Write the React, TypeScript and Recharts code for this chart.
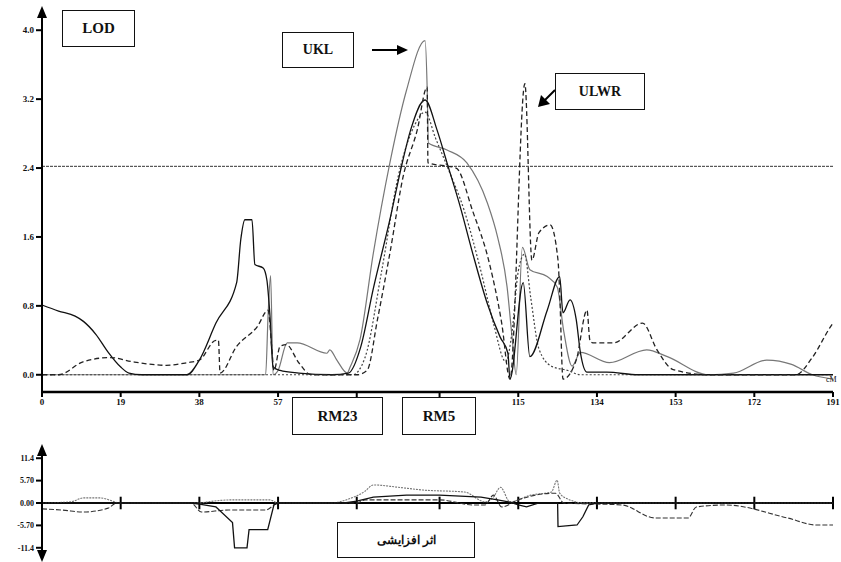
import {
  ComposedChart, Line, XAxis, YAxis, ReferenceLine
} from 'recharts';

// marker positions along the chromosome (cM)
const cmTicks = [0, 19, 38, 57, 76, 96, 115, 134, 153, 172, 191];
const lodTicks = [0, 0.8, 1.6, 2.4, 3.2, 4.0];
const effectTicks = [-11.4, -5.7, 0, 5.7, 11.4];
const threshold = 2.42;

// LOD profiles [cM, LOD]
const traitA = [
  [0, .81], [4, .74], [8, .68], [10, .62], [13, .47], [16, .26], [19, .09], [21, .02], [24, 0], [35, 0],
  [38, .17], [42, .6], [47, 1.07], [48, 1.57], [49, 1.8], [50.7, 1.8], [51.4, 1.28], [53.4, 1.24], [54.3, 1.1],
  [55, .72], [55.8, .09], [57.5, .05], [62, .02], [70, 0], [74, .02], [77, .33], [80, 1.0], [84, 1.8], [87, 2.46],
  [89, 2.84], [92.5, 3.19], [95.4, 2.84], [97.8, 2.46], [101, 1.95], [104, 1.41], [107.5, .83], [110.6, .44],
  [112.5, .25], [113, -.05], [116.2, 1.07], [117.8, .21], [122, .75], [125, 1.14], [125.8, .72], [127.5, .87],
  [129, .64], [130, .26], [131.6, .03], [136.4, .03], [144, 0], [191, 0],
];
const traitULWR = [
  [0, 0], [4, 0], [9.9, .15], [16.4, .2], [22, .15], [30, .11], [35, .14], [38, .17], [42, .4], [42.6, .4],
  [43, .02], [47, .33], [52, .56], [54.6, .75], [55.5, .3], [56, .05], [57.5, .33], [59, .35], [62, .14], [65, 0],
  [76, 0], [78.5, .05], [81, .64], [84, 1.41], [87.2, 2.3], [90.6, 2.84], [93, 3.34], [93.2, 2.46], [100, 2.4],
  [104, 1.9], [108, 1.3], [111, .6], [113, -.05], [116.6, 3.38], [118.3, 1.33], [120, 1.65], [122.7, 1.74],
  [124.6, 1.33], [125, .95], [125.8, -.05], [129, .17], [131.6, .75], [132.3, .4], [133, .37], [138, .37],
  [145, .6], [148.5, .29], [152.4, .06], [161, 0], [182, 0], [186, .2], [190.3, .55], [191, .6],
];
const traitUKL = [
  [0, 0], [54, 0], [54.6, .7], [55.2, 1.15], [55.8, 0], [57, .05], [59.2, .37], [61.6, .37], [68.8, .25],
  [69.5, .29], [71.2, .17], [73.7, .02], [74.4, .09], [76.8, .41], [80, 1.41], [84, 2.46], [88, 3.3], [92.5, 3.88],
  [93, 3.34], [93.3, 2.69], [97.8, 2.61], [102.6, 2.46], [107.5, 2.0], [110, 1.6], [112.3, 1.02], [113.5, .44],
  [114.5, 0], [116, 1.48], [117.8, 1.22], [122, 1.14], [124.4, 1.02], [126, .5], [128, .1], [130, .26],
  [137, .14], [146, .29], [151, .21], [161, 0], [167, .02], [175, .17], [181, .12], [186, 0], [191, -.05],
];
const traitD = [
  [0, 0], [75, 0], [78, .2], [82, 1.2], [86, 2.3], [90, 2.9], [92.5, 3.05], [95, 2.75], [98, 2.4], [102, 1.9],
  [106, 1.2], [109, .6], [112, .15], [113.5, .5], [115, 1.2], [116.5, 1.4], [118, .9], [120, .3], [123, .1],
  [127, .05], [130, 0], [191, 0],
];

// additive effects [cM, effect]
const effA = [
  [0, 0], [36, 0], [38, -.3], [42, -1], [46, -5], [46.5, -11.4], [49.5, -11.4], [50, -6.8], [54.5, -6.8],
  [56, -.5], [57, 0], [73, 0], [76, .5], [80, 1.5], [88, 2], [96, 2], [106, 1.5], [110, .8], [113, .2],
  [115, -.5], [117, -1], [120, 0], [124.5, 0], [124.6, -6], [129.2, -5.6], [130.6, -3.5], [132, -.5], [134, 0], [191, 0],
];
const effB = [
  [0, 0], [7, .3], [10, 1.3], [14, 1.3], [17, .5], [18.5, 0], [38, 0], [40, .3], [46, .8], [55, .8], [57, 0],
  [70, 0], [74, 1], [78, 3], [80, 4.6], [86, 4], [92, 3.3], [102, 2.8], [107, .3], [109, 1.5], [110.7, 4],
  [113, .3], [118, 2], [123, 2.8], [124.4, 5.8], [125, 2.5], [127, 1], [131, 0], [191, 0],
];
const effC = [
  [0, -1.5], [5, -1.8], [10, -2.3], [16, -1.3], [18, 0], [36, 0], [38.5, -2.3], [45, -1.8], [54, -1.8], [57, 0],
  [76, 0], [78, .8], [96, .8], [104, -.5], [107, -.5], [109, 2], [111, -1], [115, .8], [124, 2.5], [126, 0],
  [140, -.5], [148, -3.8], [156, -3.8], [158, -1], [165, -.5], [180, -3.8], [187, -5.6], [191, -5.6],
];

const toRows = (pts: number[][]) => pts.map(([x, y]) => ({ x, y }));

const serif = 'Liberation Serif, serif';
const tickStyle = { fontSize: 9, fontFamily: serif, fontWeight: 700, fill: '#111' };

const fmtEffect = (v: number) => {
  if (v === 0) return '0.00';
  if (Math.abs(v) === 5.7) return (v < 0 ? '-' : '') + '5.70';
  return v < 0 ? '-11.4' : '11.4';
};

function Box({ left, top, w, h, text, size = 14 }: any) {
  return (
    <div style={{
      position: 'absolute', left, top, width: w, height: h, border: '1.5px solid #111', background: '#fff',
      display: 'flex', alignItems: 'center', justifyContent: 'center', boxSizing: 'border-box',
      fontFamily: serif, fontWeight: 700, fontSize: size, color: '#111',
    }}>{text}</div>
  );
}

export default function App() {
  return (
    <div style={{ position: 'absolute', left: 0, top: 0, width: 841, height: 562, background: '#fff', overflow: 'hidden' }}>
      <div style={{ position: 'absolute', left: 0, top: 0 }}>
        <ComposedChart width={841} height={430} margin={{ top: 13, right: 8, left: 0, bottom: 8 }}>
          <XAxis type="number" dataKey="x" domain={[0, 191]} ticks={cmTicks} height={30}
            axisLine={{ stroke: '#000', strokeWidth: 2.5 }} tickLine={{ stroke: '#000', strokeWidth: 2 }}
            tick={tickStyle} tickSize={5} interval={0} />
          <YAxis type="number" domain={[-0.2, 4.2]} ticks={lodTicks} width={42}
            tickFormatter={(v: number) => v.toFixed(1)}
            axisLine={{ stroke: '#000', strokeWidth: 2 }} tickLine={{ stroke: '#000', strokeWidth: 2 }}
            tick={tickStyle} tickSize={6} allowDataOverflow />
          <ReferenceLine y={threshold} stroke="#333" strokeDasharray="3 1" strokeWidth={1} />
          <Line data={toRows(traitUKL)} dataKey="y" type="monotone" stroke="#777" strokeWidth={1.2} dot={false} isAnimationActive={false} />
          <Line data={toRows(traitD)} dataKey="y" type="monotone" stroke="#444" strokeWidth={1.2} strokeDasharray="2 2" dot={false} isAnimationActive={false} />
          <Line data={toRows(traitA)} dataKey="y" type="monotone" stroke="#111" strokeWidth={1.3} dot={false} isAnimationActive={false} />
          <Line data={toRows(traitULWR)} dataKey="y" type="monotone" stroke="#222" strokeWidth={1.3} strokeDasharray="5 3" dot={false} isAnimationActive={false} />
        </ComposedChart>
      </div>

      <div style={{ position: 'absolute', left: 0, top: 440 }}>
        <ComposedChart width={841} height={122} margin={{ top: 8, right: 8, left: 0, bottom: 4 }}>
          <XAxis type="number" dataKey="x" domain={[0, 191]} hide />
          <YAxis type="number" domain={[-14, 14]} ticks={effectTicks} width={42} interval={0}
            tickFormatter={fmtEffect}
            axisLine={{ stroke: '#000', strokeWidth: 2 }} tickLine={{ stroke: '#000', strokeWidth: 2 }}
            tick={{ ...tickStyle, fontSize: 8 }} tickSize={6} />
          <ReferenceLine y={0} stroke="#000" strokeWidth={2} />
          {cmTicks.map((t) => (
            <ReferenceLine key={t} segment={[{ x: t, y: -1.6 }, { x: t, y: 1.6 }]} stroke="#000" strokeWidth={2} />
          ))}
          <Line data={toRows(effB)} dataKey="y" type="monotone" stroke="#777" strokeWidth={1.1} strokeDasharray="2 1" dot={false} isAnimationActive={false} />
          <Line data={toRows(effC)} dataKey="y" type="monotone" stroke="#333" strokeWidth={1.1} strokeDasharray="5 2" dot={false} isAnimationActive={false} />
          <Line data={toRows(effA)} dataKey="y" type="linear" stroke="#111" strokeWidth={1.3} dot={false} isAnimationActive={false} />
        </ComposedChart>
      </div>

      <svg width={841} height={562} style={{ position: 'absolute', left: 0, top: 0, pointerEvents: 'none' }}>
        <polygon points="42,6 37,18 47,18" fill="#000" />
        <polygon points="42,444 37,456 47,456" fill="#000" />
        <polygon points="42,562 37,550 47,550" fill="#000" />
        <line x1={372} y1={50} x2={400} y2={50} stroke="#000" strokeWidth={2} />
        <polygon points="408,50 397,45 397,55" fill="#000" />
        <line x1={555} y1={90} x2={544} y2={101} stroke="#000" strokeWidth={2} />
        <polygon points="538,107 541,95 550,104" fill="#000" />
        <text x={826} y={382} fontSize={8} fontFamily={serif} fill="#111">cM</text>
      </svg>

      <Box left={62} top={10} w={73} h={37} text="LOD" size={15} />
      <Box left={282} top={32} w={72} h={36} text="UKL" />
      <Box left={555} top={73} w={90} h={37} text="ULWR" />
      <Box left={292} top={397} w={91} h={38} text="RM23" size={15} />
      <Box left={402} top={397} w={74} h={38} text="RM5" size={15} />
      <Box left={337} top={522} w={138} h={36} text="اثر افزایشی" size={12} />
    </div>
  );
}
